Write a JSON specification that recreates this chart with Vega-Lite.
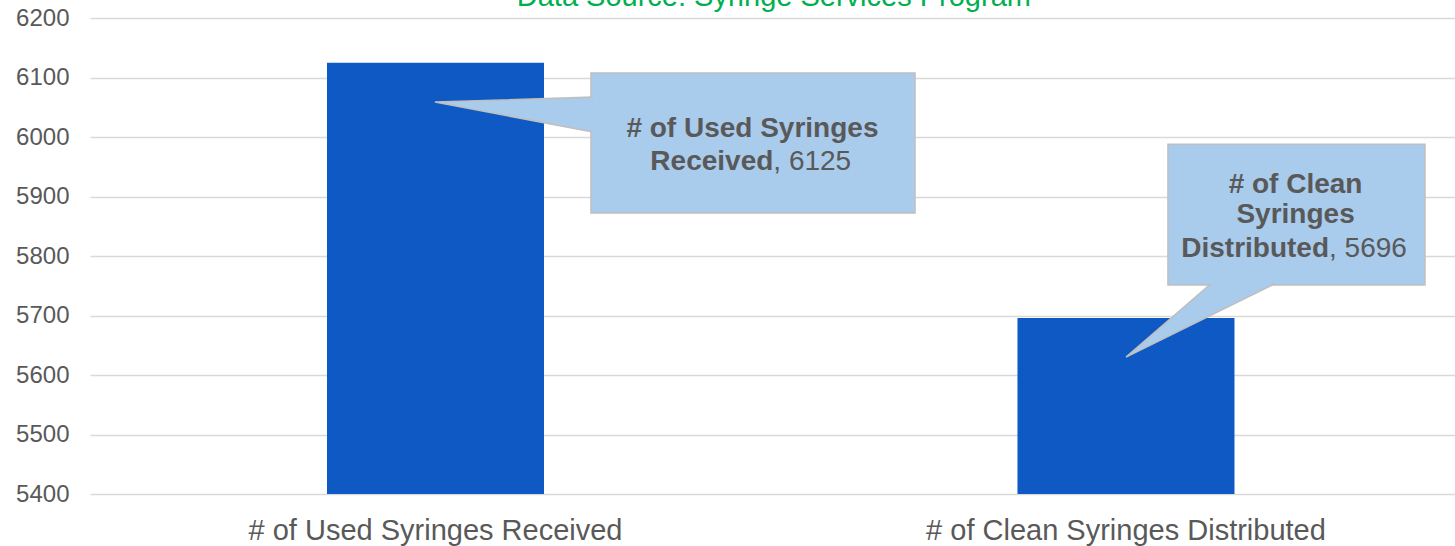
{
  "$schema": "https://vega.github.io/schema/vega-lite/v6.json",
  "width": 1365,
  "height": 476,
  "autosize": {"type": "none"},
  "padding": {"left": 90, "top": 18, "right": 0, "bottom": 52},
  "background": "white",
  "config": {
    "view": {"stroke": null},
    "font": "Liberation Sans",
    "axis": {"labelFont": "Liberation Sans", "labelColor": "#595959"},
    "text": {"font": "Liberation Sans"}
  },
  "datasets": {
    "bars": [
      {"category": "# of Used Syringes Received", "value": 6125},
      {"category": "# of Clean Syringes Distributed", "value": 5696}
    ],
    "one": [{}]
  },
  "layer": [
    {
      "data": {"name": "bars"},
      "mark": {"type": "bar", "color": "#0E59C3"},
      "encoding": {
        "x": {
          "field": "category",
          "type": "nominal",
          "sort": null,
          "scale": {"paddingInner": 0.6857, "paddingOuter": 0.3313, "align": 0.518},
          "axis": {
            "title": null,
            "labelAngle": 0,
            "labelFontSize": 29,
            "labelBaseline": "alphabetic",
            "labelPadding": 45,
            "labelOverlap": false,
            "labelLimit": 600,
            "ticks": false,
            "domain": false,
            "grid": false
          }
        },
        "y": {
          "field": "value",
          "type": "quantitative",
          "scale": {"domain": [5400, 6200], "zero": false, "nice": false},
          "axis": {
            "title": null,
            "values": [5400, 5500, 5600, 5700, 5800, 5900, 6000, 6100, 6200],
            "format": "d",
            "labelFontSize": 24,
            "labelPadding": 21,
            "ticks": false,
            "domain": false,
            "grid": true,
            "gridColor": "#D9D9D9",
            "gridWidth": 1.5
          }
        },
        "y2": {"datum": 5400}
      }
    },
    {
      "data": {"name": "one"},
      "layer": [
        {
          "mark": {"type": "rect", "fill": "#A9CBEC", "stroke": "#BFBFBF", "strokeWidth": 1.5},
          "encoding": {
            "x": {"datum": 0.367, "type": "quantitative", "scale": {"domain": [0, 1]}, "axis": null},
            "x2": {"datum": 0.6044},
            "y": {"datum": 6107.6, "type": "quantitative"},
            "y2": {"datum": 5872.3}
          }
        },
        {
          "mark": {"type": "point", "shape": "M0.79,-0.025L0,0L0.79,0.15", "size": 160000, "filled": true, "fill": "#A9CBEC", "stroke": "#BFBFBF", "strokeWidth": 1.5, "opacity": 1},
          "encoding": {
            "x": {"datum": 0.2527, "type": "quantitative", "axis": null},
            "y": {"datum": 6058.8, "type": "quantitative"}
          }
        },
        {
          "mark": {"type": "rect", "fill": "#A9CBEC", "stroke": "#BFBFBF", "strokeWidth": 1.5},
          "encoding": {
            "x": {"datum": 0.7897, "type": "quantitative", "axis": null},
            "x2": {"datum": 0.978},
            "y": {"datum": 5988, "type": "quantitative"},
            "y2": {"datum": 5751.3}
          }
        },
        {
          "mark": {"type": "point", "shape": "M0.425,-0.3675L0,0L0.745,-0.3675", "size": 160000, "filled": true, "fill": "#A9CBEC", "stroke": "#BFBFBF", "strokeWidth": 1.5, "opacity": 1},
          "encoding": {
            "x": {"datum": 0.759, "type": "quantitative", "axis": null},
            "y": {"datum": 5630, "type": "quantitative"}
          }
        },
        {
          "mark": {"type": "text", "text": "# of Used Syringes", "fontSize": 28, "fontWeight": "bold", "color": "#595959", "align": "center", "baseline": "alphabetic"},
          "encoding": {
            "x": {"datum": 0.4853, "type": "quantitative", "axis": null},
            "y": {"datum": 6000, "type": "quantitative"}
          }
        },
        {
          "mark": {"type": "text", "text": "Received", "fontSize": 28, "fontWeight": "bold", "color": "#595959", "align": "right", "baseline": "alphabetic"},
          "encoding": {
            "x": {"datum": 0.5006, "type": "quantitative", "axis": null},
            "y": {"datum": 5944.5, "type": "quantitative"}
          }
        },
        {
          "mark": {"type": "text", "text": ", 6125", "fontSize": 28, "color": "#595959", "align": "left", "baseline": "alphabetic"},
          "encoding": {
            "x": {"datum": 0.5006, "type": "quantitative", "axis": null},
            "y": {"datum": 5944.5, "type": "quantitative"}
          }
        },
        {
          "mark": {"type": "text", "text": "# of Clean", "fontSize": 28, "fontWeight": "bold", "color": "#595959", "align": "center", "baseline": "alphabetic"},
          "encoding": {
            "x": {"datum": 0.8832, "type": "quantitative", "axis": null},
            "y": {"datum": 5906, "type": "quantitative"}
          }
        },
        {
          "mark": {"type": "text", "text": "Syringes", "fontSize": 28, "fontWeight": "bold", "color": "#595959", "align": "center", "baseline": "alphabetic"},
          "encoding": {
            "x": {"datum": 0.8832, "type": "quantitative", "axis": null},
            "y": {"datum": 5855.5, "type": "quantitative"}
          }
        },
        {
          "mark": {"type": "text", "text": "Distributed", "fontSize": 28, "fontWeight": "bold", "color": "#595959", "align": "right", "baseline": "alphabetic"},
          "encoding": {
            "x": {"datum": 0.9077, "type": "quantitative", "axis": null},
            "y": {"datum": 5798.8, "type": "quantitative"}
          }
        },
        {
          "mark": {"type": "text", "text": ", 5696", "fontSize": 28, "color": "#595959", "align": "left", "baseline": "alphabetic"},
          "encoding": {
            "x": {"datum": 0.9077, "type": "quantitative", "axis": null},
            "y": {"datum": 5798.8, "type": "quantitative"}
          }
        },
        {
          "mark": {"type": "text", "text": "Data Source: Syringe Services Program", "fontSize": 29, "color": "#00B050", "align": "center", "baseline": "alphabetic"},
          "encoding": {
            "x": {"datum": 0.501, "type": "quantitative", "axis": null},
            "y": {"datum": 6220, "type": "quantitative"}
          }
        }
      ]
    }
  ],
  "resolve": {"scale": {"x": "independent"}}
}
